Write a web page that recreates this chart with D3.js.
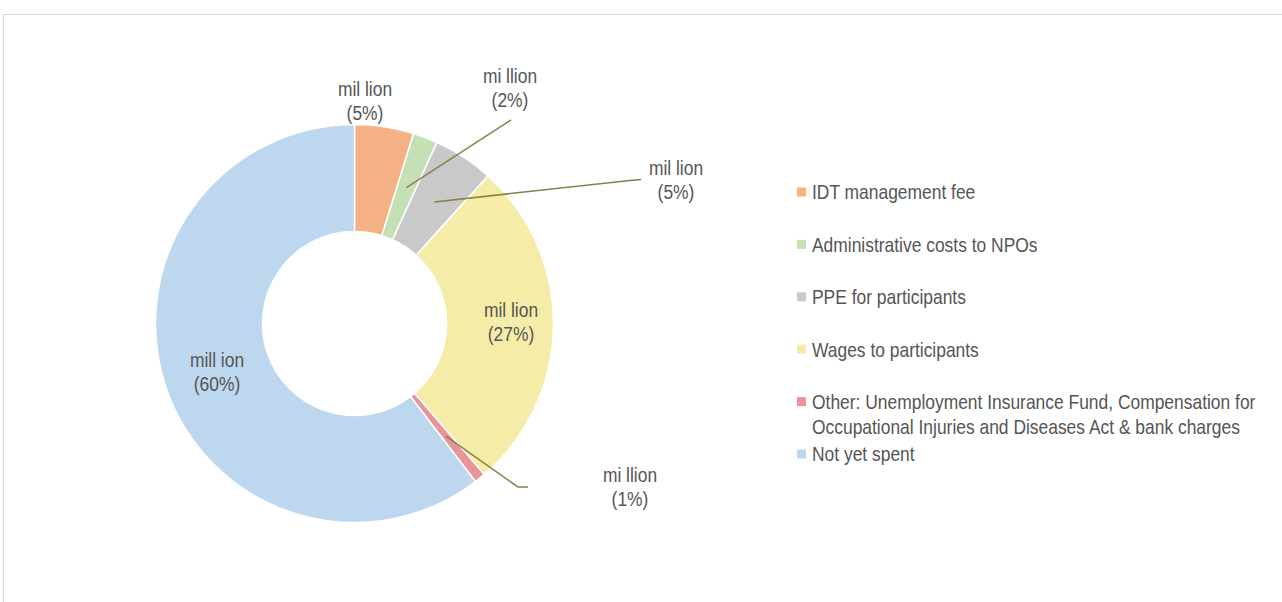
<!DOCTYPE html>
<html>
<head>
<meta charset="utf-8">
<script src="https://cdn.jsdelivr.net/npm/d3@7"></script>
<style>
  html, body { margin: 0; padding: 0; background: #ffffff; }
  svg { display: block; }
  text { font-family: "Liberation Sans", Arial, sans-serif; fill: #555555; }
</style>
</head>
<body>
<svg id="chart" width="1282" height="602"></svg>
<script>
// ---- data ----
const categories = [
  "IDT management fee",
  "Administrative costs to NPOs",
  "PPE for participants",
  "Wages to participants",
  "Other: Unemployment Insurance Fund, Compensation for Occupational Injuries and Diseases Act & bank charges",
  "Not yet spent"
];
const values = [4.8, 2.0, 4.9, 27.0, 0.9, 60.4];
const valueLabels = ["mil lion", "mi llion", "mil lion", "mil lion", "mi llion", "mill ion"];
const percentLabels = ["(5%)", "(2%)", "(5%)", "(27%)", "(1%)", "(60%)"];
const colors = ["#F4B183", "#C5E0B4", "#C9C9C9", "#F5EDA7", "#E8949A", "#BDD7EE"];

// ---- layout (styling) ----
const cx = 354.5, cy = 323.5, rIn = 92, rOut = 199;
const fontSize = 20.5, squeeze = 0.85, lineH = 24.5;
// label positions: [centerX, first baseline]
const labelPos = [[365, 96], [510, 83], [676, 175], [511, 317], [630, 482], [217, 367]];
// leader lines: extra points after the slice centroid
const leaders = [null, [[511, 120]], [[630, 180.5], [641, 179.5]], null, [[518, 487], [528, 487]], null];

const svg = d3.select("#chart");

// frame
svg.append("rect")
  .attr("x", 3.5).attr("y", 14.5)
  .attr("width", 1400).attr("height", 800)
  .attr("fill", "none").attr("stroke", "#d9d9d9").attr("stroke-width", 1);

const pie = d3.pie().sort(null).value(d => d)(values);
const arc = d3.arc().innerRadius(rIn).outerRadius(rOut);

const g = svg.append("g").attr("transform", `translate(${cx},${cy})`);
g.selectAll("path.slice").data(pie).join("path")
  .attr("class", "slice")
  .attr("d", arc)
  .attr("fill", (d, i) => colors[i])
  .attr("stroke", "#ffffff").attr("stroke-width", 1.5);

// leader lines
const line = d3.line();
pie.forEach((d, i) => {
  if (!leaders[i]) return;
  const c = arc.centroid(d);
  const pts = [[cx + c[0], cy + c[1]]].concat(leaders[i]);
  svg.append("path").attr("d", line(pts))
    .attr("fill", "none").attr("stroke", "#8a7f47").attr("stroke-width", 1.5);
});

// data labels
pie.forEach((d, i) => {
  const [x, y] = labelPos[i];
  const t = svg.append("g").attr("transform", `translate(${x},${y}) scale(${squeeze},1)`);
  t.append("text").attr("text-anchor", "middle").attr("font-size", fontSize).text(valueLabels[i]);
  t.append("text").attr("text-anchor", "middle").attr("y", lineH).attr("font-size", fontSize).text(percentLabels[i]);
});

// legend
const legX = 797, legY0 = 192, legStep = 52.4, maxW = 460;
categories.forEach((name, i) => {
  const yc = legY0 + i * legStep;
  svg.append("rect").attr("x", legX).attr("y", yc - 4.5).attr("width", 9).attr("height", 9).attr("fill", colors[i]);
  const t = svg.append("g").attr("transform", `translate(${legX + 15},${yc + 7.3}) scale(${squeeze},1)`);
  const words = name.split(" ");
  let lineIdx = 0;
  let txt = t.append("text").attr("font-size", fontSize).attr("y", 0);
  let cur = [];
  words.forEach(w => {
    cur.push(w);
    txt.text(cur.join(" "));
    if (txt.node().getComputedTextLength() * squeeze > maxW && cur.length > 1) {
      cur.pop();
      txt.text(cur.join(" "));
      cur = [w];
      lineIdx++;
      txt = t.append("text").attr("font-size", fontSize).attr("y", lineIdx * 25.3).text(w);
    }
  });
});
</script>
</body>
</html>
